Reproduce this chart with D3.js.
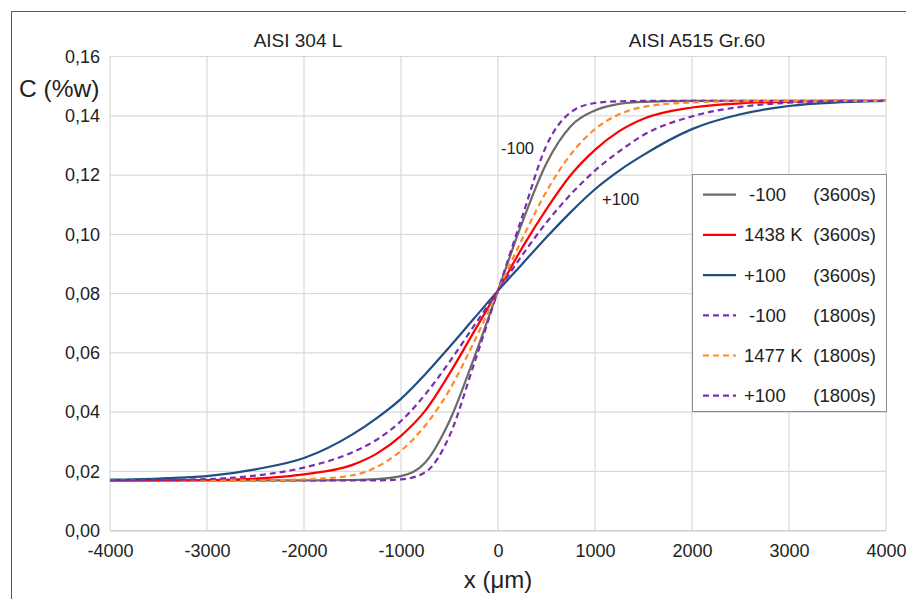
<!DOCTYPE html>
<html>
<head>
<meta charset="utf-8">
<script src="https://cdn.jsdelivr.net/npm/d3@7"></script>
<style>
  html, body { margin: 0; padding: 0; background: #fff; }
  svg { display: block; font-family: "Liberation Sans", Arial, sans-serif; }
</style>
</head>
<body>
<svg id="chart" width="906" height="599"></svg>
<script>
// x positions (µm) shared by all profiles
const xPos = [-4000, -3500, -3000, -2500, -2000, -1500, -1250, -1000, -750, -500, -250, 0,
  250, 500, 750, 1000, 1250, 1500, 2000, 2500, 3000, 3500, 4000];

// carbon content (%w)
const cMinus3600 = [0.0170, 0.0170, 0.0170, 0.0170, 0.0170, 0.0171, 0.0174, 0.0184, 0.0230, 0.0370, 0.0580, 0.0810,
  0.1040, 0.1240, 0.1365, 0.1418, 0.1440, 0.1447, 0.1450, 0.1450, 0.1450, 0.1450, 0.1450];
const c1438K3600 = [0.0170, 0.0170, 0.0171, 0.0176, 0.0190, 0.0222, 0.0260, 0.0320, 0.0405, 0.0530, 0.0670, 0.0810,
  0.0955, 0.1085, 0.1200, 0.1285, 0.1348, 0.1390, 0.1428, 0.1442, 0.1448, 0.1450, 0.1450];
const cPlus3600 = [0.0172, 0.0176, 0.0184, 0.0207, 0.0245, 0.0325, 0.0380, 0.0445, 0.0528, 0.0620, 0.0715, 0.0810,
  0.0900, 0.0990, 0.1075, 0.1152, 0.1215, 0.1268, 0.1355, 0.1405, 0.1433, 0.1445, 0.1450];
const cMinus1800 = [0.0170, 0.0170, 0.0170, 0.0170, 0.0170, 0.0170, 0.0170, 0.0173, 0.0197, 0.0320, 0.0560, 0.0810,
  0.1060, 0.1300, 0.1412, 0.1443, 0.1449, 0.1450, 0.1450, 0.1450, 0.1450, 0.1450, 0.1450];
const c1477K1800 = [0.0170, 0.0170, 0.0170, 0.0170, 0.0173, 0.0187, 0.0215, 0.0270, 0.0355, 0.0475, 0.0635, 0.0810,
  0.0985, 0.1145, 0.1270, 0.1355, 0.1405, 0.1430, 0.1445, 0.1449, 0.1450, 0.1450, 0.1450];
const cPlus1800 = [0.0170, 0.0171, 0.0174, 0.0186, 0.0213, 0.0265, 0.0307, 0.0370, 0.0460, 0.0570, 0.0690, 0.0810,
  0.0930, 0.1040, 0.1135, 0.1215, 0.1280, 0.1335, 0.1398, 0.1430, 0.1444, 0.1449, 0.1450];

const legendNames = ['-100', '1438 K', '+100', '-100', '1477 K', '+100'];
const legendTimes = ['(3600s)', '(3600s)', '(3600s)', '(1800s)', '(1800s)', '(1800s)'];
const xTicks = [-4000, -3000, -2000, -1000, 0, 1000, 2000, 3000, 4000];
const yTicks = [0, 0.02, 0.04, 0.06, 0.08, 0.10, 0.12, 0.14, 0.16];

const series = [
  { vals: cMinus3600, color: '#6b6b6b', dash: null },
  { vals: c1438K3600, color: '#ff0000', dash: null },
  { vals: cPlus3600,  color: '#1f4e82', dash: null },
  { vals: cMinus1800, color: '#7a2fb0', dash: '6,4' },
  { vals: c1477K1800, color: '#ff8a2a', dash: '6,4' },
  { vals: cPlus1800,  color: '#7a2fb0', dash: '6,4' }
];

const svg = d3.select('#chart');
const m = { left: 110, right: 886, top: 56.5, bottom: 530.7 };

const x = d3.scaleLinear().domain([-4000, 4000]).range([m.left, m.right]);
const y = d3.scaleLinear().domain([0, 0.16]).range([m.bottom, m.top]);
const fmt = v => d3.format('.2f')(v).replace('.', ',');

// outer chart frame
svg.append('rect')
  .attr('x', 11.5).attr('y', 11.5).attr('width', 1000).attr('height', 1000)
  .attr('fill', 'none').attr('stroke', '#5a5a5a').attr('stroke-width', 1);

// gridlines
svg.append('g').selectAll('line').data(xTicks).enter().append('line')
  .attr('x1', d => x(d)).attr('x2', d => x(d))
  .attr('y1', m.top).attr('y2', m.bottom)
  .attr('stroke', '#d9d9d9').attr('stroke-width', 1.2);
svg.append('g').selectAll('line').data(yTicks).enter().append('line')
  .attr('x1', m.left).attr('x2', m.right)
  .attr('y1', d => y(d)).attr('y2', d => y(d))
  .attr('stroke', '#d9d9d9').attr('stroke-width', 1.2);

// axes (labels only, lines are the grid)
const xAxis = svg.append('g')
  .attr('transform', `translate(0,${m.bottom})`)
  .call(d3.axisBottom(x).tickValues(xTicks).tickSize(0).tickPadding(14).tickFormat(d => String(d)));
const yAxis = svg.append('g')
  .attr('transform', `translate(${m.left},0)`)
  .call(d3.axisLeft(y).tickValues(yTicks).tickSize(0).tickPadding(10).tickFormat(fmt));
[xAxis, yAxis].forEach(a => {
  a.select('.domain').remove();
  a.selectAll('text').attr('font-size', 18).attr('fill', '#222')
    .attr('font-family', '"Liberation Sans", Arial, sans-serif');
});
svg.append('line')
  .attr('x1', m.left).attr('x2', m.right).attr('y1', m.bottom).attr('y2', m.bottom)
  .attr('stroke', '#d0d0d0').attr('stroke-width', 1.5);

// curves
const line = d3.line()
  .x((d, i) => x(xPos[i]))
  .y(d => y(d))
  .curve(d3.curveMonotoneX);

svg.append('g').selectAll('path').data(series).enter().append('path')
  .attr('d', d => line(d.vals))
  .attr('fill', 'none')
  .attr('stroke', d => d.color)
  .attr('stroke-width', 2.2)
  .attr('stroke-dasharray', d => d.dash);

// titles
svg.append('text').attr('x', 298).attr('y', 47).attr('text-anchor', 'middle')
  .attr('font-size', 19).attr('fill', '#222').text('AISI 304 L');
svg.append('text').attr('x', 697).attr('y', 47).attr('text-anchor', 'middle')
  .attr('font-size', 19).attr('fill', '#222').text('AISI A515 Gr.60');
svg.append('text').attr('x', 19).attr('y', 97)
  .attr('font-size', 24.5).attr('fill', '#222').text('C (%w)');
svg.append('text').attr('x', 498).attr('y', 588).attr('text-anchor', 'middle')
  .attr('font-size', 24).attr('fill', '#222').text('x (μm)');

// annotations
svg.append('text').attr('x', 501).attr('y', 154)
  .attr('font-size', 16.5).attr('fill', '#222').text('-100');
svg.append('text').attr('x', 602).attr('y', 205)
  .attr('font-size', 16.5).attr('fill', '#222').text('+100');

// legend
const lg = svg.append('g');
lg.append('rect')
  .attr('x', 692.5).attr('y', 174.5).attr('width', 194).attr('height', 237)
  .attr('fill', '#fff').attr('stroke', '#8c8c8c').attr('stroke-width', 1);
const rows = lg.selectAll('g.row').data(series).enter().append('g')
  .attr('class', 'row')
  .attr('transform', (d, i) => `translate(0,${194.7 + i * 40.2})`);
rows.append('line')
  .attr('x1', 703).attr('x2', 736).attr('y1', 0).attr('y2', 0)
  .attr('stroke', d => d.color).attr('stroke-width', 2.2)
  .attr('stroke-dasharray', d => d.dash);
rows.append('text')
  .attr('x', (d, i) => legendNames[i] === '-100' ? 749 : 744).attr('y', 6.5)
  .attr('font-size', 18.5).attr('fill', '#222')
  .text((d, i) => legendNames[i]);
rows.append('text')
  .attr('x', 876).attr('y', 6.5).attr('text-anchor', 'end')
  .attr('font-size', 18.5).attr('fill', '#222')
  .text((d, i) => legendTimes[i]);
</script>
</body>
</html>
